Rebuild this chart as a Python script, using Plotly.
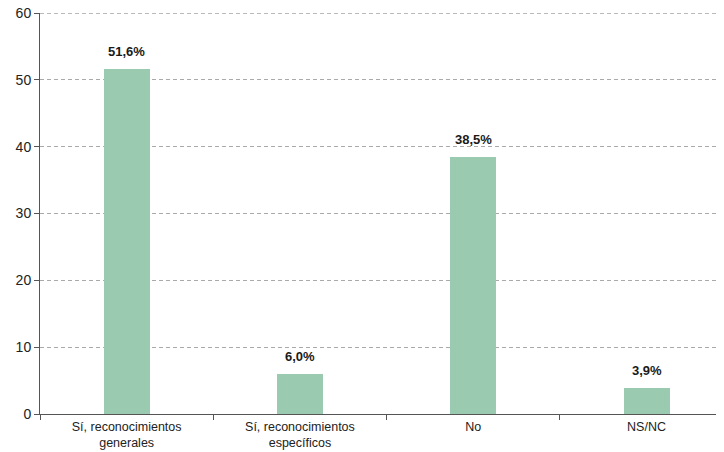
import plotly.graph_objects as go

categories = ["Sí, reconocimientos<br>generales", "Sí, reconocimientos<br>específicos", "No", "NS/NC"]
values = [51.6, 6.0, 38.5, 3.9]
value_labels = ["51,6%", "6,0%", "38,5%", "3,9%"]
y_ticks = [0, 10, 20, 30, 40, 50, 60]

fig = go.Figure(go.Bar(
    x=categories,
    y=values,
    width=0.265,
    marker=dict(color="#9ACAB0", line=dict(width=0)),
))

# value labels above the bars
for cat, val, lab in zip(categories, values, value_labels):
    fig.add_annotation(
        x=cat, y=val, text=f"<b>{lab}</b>",
        showarrow=False, yanchor="bottom", yshift=8,
        font=dict(family="Liberation Sans, Arial, sans-serif", size=13, color="#1a1a1a"),
    )

# top dashed border at the last tick (plotly skips the grid line at the range edge)
fig.add_shape(
    type="line", xref="paper", x0=0, x1=1, yref="y", y0=y_ticks[-1], y1=y_ticks[-1],
    line=dict(color="#777777", width=1, dash="4px,3px"),
)

# page body adds an 8px margin, so the figure is sized to fit the window
fig.update_layout(
    width=716,
    height=444,
    margin=dict(l=32, r=0, t=5, b=38, autoexpand=False),
    plot_bgcolor="white",
    paper_bgcolor="white",
    font=dict(family="Liberation Sans, Arial, sans-serif", size=13, color="#222222"),
    showlegend=False,
    bargap=0,
    xaxis=dict(
        type="category",
        range=[-0.5, 3.447],
        tickson="boundaries",
        ticks="outside",
        ticklen=5,
        tickcolor="#555555",
        showline=True,
        linecolor="#555555",
        linewidth=1,
        showgrid=False,
        automargin=False,
        ticklabelstandoff=1,
        tickfont=dict(size=12.5, color="#222222"),
    ),
    yaxis=dict(
        range=[0, 60],
        tickvals=y_ticks,
        ticks="outside",
        ticklen=5,
        tickcolor="#555555",
        showline=True,
        linecolor="#555555",
        linewidth=1,
        showgrid=True,
        gridcolor="#aaaaaa",
        griddash="4px,3px",
        gridwidth=1,
        zeroline=False,
        automargin=False,
        ticklabeloverflow="allow",
        tickfont=dict(size=14, color="#222222"),
    ),
)

fig.write_html("out.html")
